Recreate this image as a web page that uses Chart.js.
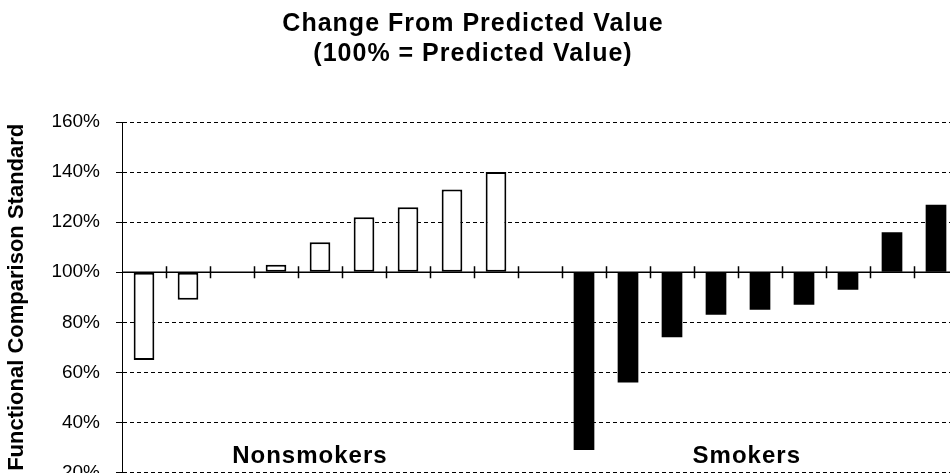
<!DOCTYPE html>
<html>
<head>
<meta charset="utf-8">
<script src="https://cdn.jsdelivr.net/npm/chart.js@4/dist/chart.umd.min.js"></script>
<style>
  html, body { margin: 0; padding: 0; background: #fff; overflow: hidden; }
  #wrap { position: relative; width: 950px; height: 473px; overflow: hidden; }
  #box { position: absolute; left: -12px; top: 0; width: 970px; height: 500px; }
</style>
</head>
<body>
<div id="wrap"><div id="box"><canvas id="chart" width="970" height="500"></canvas></div></div>
<script>
// one slot per subject, slot 9 is the gap between the two groups
var subjects = ['N1', 'N2', 'N3', 'N4', 'N5', 'N6', 'N7', 'N8', 'N9', '',
                'S1', 'S2', 'S3', 'S4', 'S5', 'S6', 'S7', 'S8', 'S9'];
var nonsmokers = [65, 89, null, 103, 112, 122, 126, 133, 140,
                  null, null, null, null, null, null, null, null, null, null];
var smokers = [null, null, null, null, null, null, null, null, null, null,
               29, 56, 74, 83, 85, 87, 93, 116, 127];
var titleLines = ['Change From Predicted Value', '(100% = Predicted Value)'];
var groupNames = ['Nonsmokers', 'Smokers'];
var groupAt = [3.77, 13.7];   // category position of the group captions
var groupLevel = 26.5;        // value level of the group captions
var predicted = 100;

var FONT = '"Liberation Sans", Arial, sans-serif';

var baseline = {
  id: 'baseline',
  afterDatasetsDraw: function (chart) {
    var xs = chart.scales.x, ys = chart.scales.y, ctx = chart.ctx;
    var area = chart.chartArea;
    var y0 = ys.getPixelForValue(predicted);
    ctx.save();
    ctx.strokeStyle = '#000';
    ctx.lineWidth = 1.5;
    ctx.beginPath();
    ctx.moveTo(area.left, y0);
    ctx.lineTo(area.right, y0);
    for (var i = 1; i < subjects.length; i++) {
      var bx = Math.round((xs.getPixelForValue(i - 1) + xs.getPixelForValue(i)) / 2) + 0.5;
      ctx.moveTo(bx, y0 - 6);
      ctx.lineTo(bx, y0 + 6);
    }
    ctx.stroke();

    ctx.fillStyle = '#000';
    ctx.letterSpacing = '1px';
    ctx.font = 'bold 24px ' + FONT;
    ctx.textAlign = 'center';
    ctx.textBaseline = 'middle';
    for (var g = 0; g < groupNames.length; g++) {
      ctx.fillText(groupNames[g], xs.getPixelForValue(groupAt[g]), ys.getPixelForValue(groupLevel));
    }

    // chart title, spaced out a little like the original
    ctx.font = 'bold 25px ' + FONT;
    for (var t = 0; t < titleLines.length; t++) {
      ctx.fillText(titleLines[t], chart.width / 2, 24 + t * 30);
    }
    ctx.restore();
  }
};

var linechart = document.getElementById('chart');
var chart = new Chart(linechart, {
  type: 'bar',
  data: {
    labels: subjects,
    datasets: [{
      label: 'Nonsmokers',
      data: nonsmokers,
      base: predicted,
      backgroundColor: '#fff',
      borderColor: '#000',
      borderWidth: 2,
      borderSkipped: false,
      barPercentage: 0.47,
      categoryPercentage: 1,
      skipNull: true
    }, {
      label: 'Smokers',
      data: smokers,
      base: predicted,
      backgroundColor: '#000',
      borderColor: '#000',
      borderWidth: 0,
      barPercentage: 0.47,
      categoryPercentage: 1,
      skipNull: true
    }]
  },
  options: {
    responsive: false,
    animation: false,
    devicePixelRatio: 1,
    layout: { padding: { top: 122, left: 0, right: 0, bottom: 0 } },
    plugins: {
      legend: { display: false },
      tooltip: { enabled: false },
      title: { display: false }
    },
    scales: {
      x: { display: false },
      y: {
        min: 20,
        max: 160,
        afterFit: function (s) { s.width = 134; },
        ticks: {
          stepSize: 20,
          color: '#000',
          padding: 16,
          font: { family: FONT, size: 19 },
          callback: function (v) { return v + '%'; }
        },
        grid: { color: '#000', lineWidth: 1, tickLength: 6 },
        border: { display: true, color: '#000', width: 1, dash: [4, 3] },
        title: {
          display: true,
          text: 'Functional Comparison Standard',
          color: '#000',
          font: { family: FONT, size: 22, weight: 'bold' },
          padding: { top: 16, bottom: 0 }
        }
      }
    }
  },
  plugins: [baseline]
});
</script>
</body>
</html>
